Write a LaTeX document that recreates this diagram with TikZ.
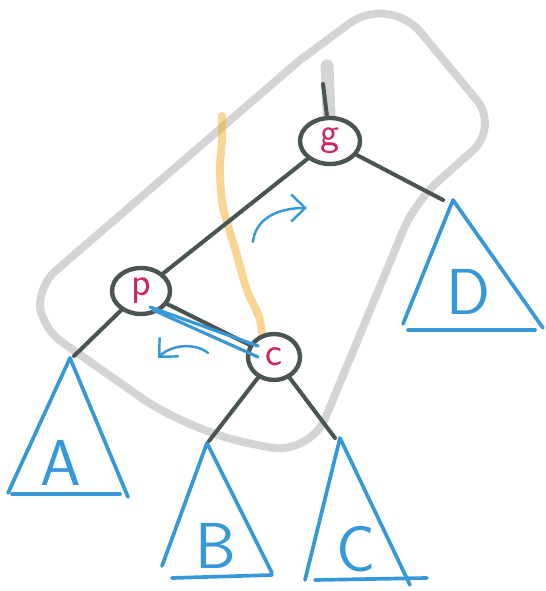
\documentclass[tikz,border=0pt]{standalone}
\usepackage{tikz}
\usetikzlibrary{
  arrows.meta,
  positioning,
  shapes.geometric
}

\definecolor{edgegray}{RGB}{74,84,82}
\definecolor{keyred}{RGB}{208,38,92}
\definecolor{treeblue}{RGB}{54,152,216}
\definecolor{boxgray}{RGB}{212,212,212}
\definecolor{pathorange}{RGB}{245,170,40}

\begin{document}
\begin{tikzpicture}[
  x=0.02cm, y=-0.02cm,
  tnode/.style={ellipse, draw=edgegray, fill=white, line width=2.5pt,
                minimum width=1.2cm, minimum height=0.92cm, inner sep=0pt,
                text=keyred, font=\sffamily\fontsize{23}{23}\selectfont},
  edge/.style={draw=edgegray, line width=2.3pt, line cap=round},
  subtree/.style={draw=treeblue, line width=2.1pt, line cap=round, line join=round},
  sublabel/.style={text=treeblue, inner sep=0pt,
                   font=\sffamily\fontsize{37}{37}\selectfont},
  rotarrow/.style={draw=treeblue, line width=1.4pt, line cap=round,
                   -{Straight Barb[length=2.8mm, width=5.4mm, line width=1.4pt]}},
  outline/.style={draw=boxgray, line width=4.5pt, line cap=round, line join=round},
  searchpath/.style={draw=pathorange, draw opacity=0.5, line width=4.5pt, line cap=round}
]
\useasboundingbox (0,0) rectangle (546,591);

% grey box round the three nodes
\draw[outline, rounded corners=1cm] (300,60) -- (389,-6)
  [rounded corners=0.7cm] -- (499,127)
  [rounded corners=0.6cm] -- (415,202)
  [rounded corners=0.8cm] -- (310,455)
  [rounded corners=1.2cm] -- (190,432)
  [rounded corners=0.45cm] -- (42,328) -- (38,286) -- (300,60);
\draw[draw=boxgray, line width=7.4pt, line cap=round] (327,66) -- (329,115);

% search path
\draw[searchpath] plot[smooth] coordinates
  {(222,116) (222,140) (220,170) (223,207) (236,252) (247,290) (259,317) (263,340)};

% nodes
\node[tnode] (g) at (330,141) {g};
\node[tnode, minimum width=1.16cm] (p) at (141,291) {p};
\node[tnode, minimum width=1.04cm] (c) at (274,357) {c};
\coordinate (root) at (323,84);

% subtrees
\coordinate (A top) at (74,356);
\coordinate (B top) at (209,441);
\coordinate (C top) at (335,438);
\coordinate (D top) at (443,200);

\draw[subtree] (8,493) -- (70,358) -- (128,497);
\draw[subtree] (12,494) -- (120,494);
\node[sublabel] (A lab) at (61,463) {A};

\draw[subtree] (162,566) -- (207,443) -- (272,573);
\draw[subtree] (172,578) -- (272,575);
\node[sublabel] (B lab) at (216,546) {B};

\draw[subtree] (305,580) -- (340,438) -- (410,585);
\draw[subtree] (315,580) -- (427,578);
\node[sublabel] (C lab) at (356,549) {C};

\draw[subtree] (403,324) -- (453,200) -- (543,328);
\draw[subtree] (408,330) -- (535,330);
\node[sublabel] (D lab) at (469,292) {D};

% tree edges
\draw[edge] (g) -- (root);
\draw[edge] (g) -- (p);
\draw[edge] (g) -- (D top);
\draw[edge] (p) -- (A top);
\draw[edge] (p) -- (c);
\draw[edge] (c) -- (B top);
\draw[edge] (c) -- (C top);

% rotation marks
\draw[treeblue, line width=1.8pt, line cap=round] (150,307) -- (258,346);
\draw[treeblue, line width=1.8pt, line cap=round] (153,310) -- (258,357);
\draw[rotarrow] (253,242) .. controls (255,220) and (276,208) .. (307,208);
\draw[rotarrow] (208,353) .. controls (196,343) and (172,344) .. (158,358);
\end{tikzpicture}
\end{document}
